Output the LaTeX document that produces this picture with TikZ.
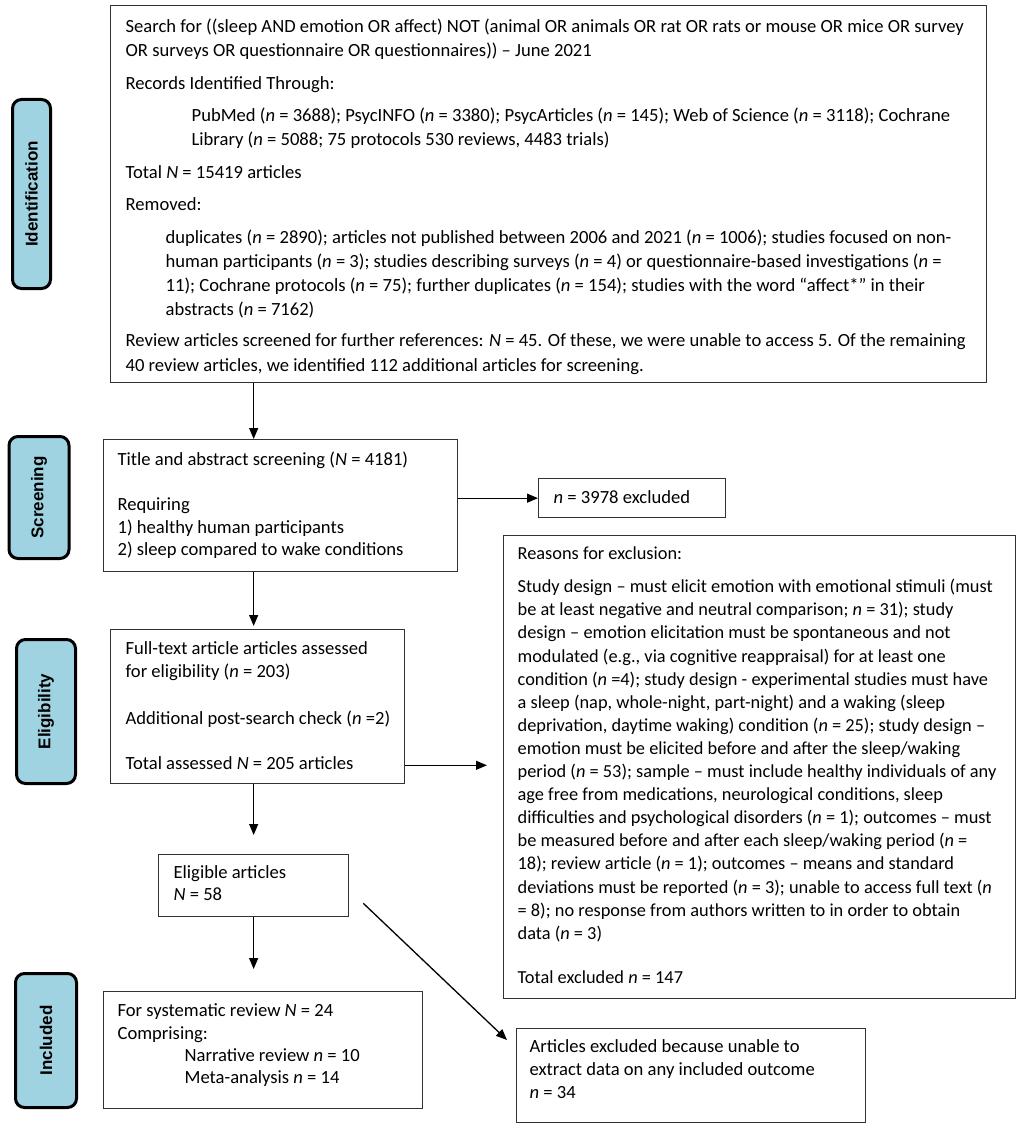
\documentclass[tikz,border=0pt]{standalone}
\usepackage{fontspec}
\setmainfont{Carlito}
\newfontfamily\lblfont{Liberation Sans}
\usetikzlibrary{arrows.meta,calc}
\definecolor{stageblue}{RGB}{160,211,226}
\definecolor{boxline}{RGB}{50,50,50}
\newcommand\boxtext[4]{\parbox[t][#2][t]{#1}{\vspace*{#3}\raggedright #4}}
\newcommand\fl{\rule{0pt}{16pt}}
\tikzset{
  flowbox/.style={draw=boxline, line width=1.3pt, rectangle, inner ysep=0pt, anchor=north west},
  stagebox/.style={draw=black, line width=3pt, rounded corners=9pt, fill=stageblue, rotate=90, inner sep=0pt, font=\lblfont\bfseries\fontsize{17}{20}\selectfont},
  arr/.style={-{Triangle[length=11pt,width=9pt]}, line width=1.3pt, draw=black},
}
\begin{document}
\begin{tikzpicture}[x=1pt,y=-1pt]
\useasboundingbox (0,0) rectangle (1021,1129);
% stage labels
\node[stagebox, minimum width=189pt, minimum height=38pt] (sid) at (31.5,194) {Identification};
\node[stagebox, minimum width=122pt, minimum height=60pt] (sscr) at (39,497.5) {Screening};
\node[stagebox, minimum width=144pt, minimum height=59pt] (selg) at (46,711.5) {Eligibility};
\node[stagebox, minimum width=134pt, minimum height=61pt] (sinc) at (46,1040.5) {Included};
% identification box
\node[flowbox, inner xsep=15pt, font=\fontsize{18.6}{24.2}\selectfont] (id) at (110,5) {\boxtext{846pt}{377pt}{11pt}{%
\mbox{\fl Search for ((sleep AND emotion OR affect) NOT (animal OR animals OR rat OR rats or mouse OR mice OR survey}\\
\mbox{OR surveys OR questionnaire OR questionnaires)) – June 2021}\\[8.5pt]
\mbox{Records Identified Through:}\\[8pt]
\mbox{\hspace*{66pt}PubMed (\textit{n} = 3688); PsycINFO (\textit{n} = 3380); PsycArticles (\textit{n} = 145); Web of Science (\textit{n} = 3118); Cochrane}\\
\mbox{\hspace*{66pt}Library (\textit{n} = 5088; 75 protocols 530 reviews, 4483 trials)}\\[8pt]
\mbox{Total \textit{N} = 15419 articles}\\[8.5pt]
\mbox{Removed:}\\[8pt]
\mbox{\hspace*{40pt}duplicates (\textit{n} = 2890); articles not published between 2006 and 2021 (\textit{n} = 1006); studies focused on non-}\\
\mbox{\hspace*{40pt}human participants (\textit{n} = 3); studies describing surveys (\textit{n} = 4) or questionnaire-based investigations (\textit{n} =}\\
\mbox{\hspace*{40pt}11); Cochrane protocols (\textit{n} = 75); further duplicates (\textit{n} = 154); studies with the word “affect*” in their}\\
\mbox{\hspace*{40pt}abstracts (\textit{n} = 7162)}\\[7pt]
\mbox{Review articles screened for further references: \textit{N} = 45. Of these, we were unable to access 5. Of the remaining}\\
\mbox{40 review articles, we identified 112 additional articles for screening.}}};
% screening box
\node[flowbox, inner xsep=14pt, font=\fontsize{18.6}{22.5}\selectfont] (scr) at (103,439) {\boxtext{326pt}{132pt}{10pt}{%
\mbox{\fl Title and abstract screening (\textit{N} = 4181)}\\[22.5pt]
\mbox{Requiring}\\
\mbox{1) healthy human participants}\\
\mbox{2) sleep compared to wake conditions}}};
% excluded 3978
\node[flowbox, inner xsep=15pt, font=\fontsize{18.6}{22.5}\selectfont] (exa) at (538,478) {\boxtext{157pt}{39pt}{9pt}{%
\mbox{\fl\textit{n} = 3978 excluded}}};
% reasons box
\node[flowbox, inner xsep=14pt, font=\fontsize{18.35}{23.1}\selectfont] (rs) at (503,535) {\boxtext{484pt}{463pt}{8pt}{%
\mbox{\fl Reasons for exclusion:}\\[10pt]
\mbox{Study design – must elicit emotion with emotional stimuli (must}\\
\mbox{be at least negative and neutral comparison; \textit{n} = 31); study}\\
\mbox{design – emotion elicitation must be spontaneous and not}\\
\mbox{modulated (e.g., via cognitive reappraisal) for at least one}\\
\mbox{condition (\textit{n} =4); study design - experimental studies must have}\\
\mbox{a sleep (nap, whole-night, part-night) and a waking (sleep}\\
\mbox{deprivation, daytime waking) condition (\textit{n} = 25); study design –}\\
\mbox{emotion must be elicited before and after the sleep/waking}\\
\mbox{period (\textit{n} = 53); sample – must include healthy individuals of any}\\
\mbox{age free from medications, neurological conditions, sleep}\\
\mbox{difficulties and psychological disorders (\textit{n} = 1); outcomes – must}\\
\mbox{be measured before and after each sleep/waking period (\textit{n} =}\\
\mbox{18); review article (\textit{n} = 1); outcomes – means and standard}\\
\mbox{deviations must be reported (\textit{n} = 3); unable to access full text (\textit{n}}\\
\mbox{= 8); no response from authors written to in order to obtain}\\
\mbox{data (\textit{n} = 3)}\\[21pt]
\mbox{Total excluded \textit{n} = 147}}};
% full-text box
\node[flowbox, inner xsep=15pt, font=\fontsize{18.6}{23.2}\selectfont] (ft) at (110,629) {\boxtext{264pt}{154pt}{9pt}{%
\mbox{\fl Full-text article articles assessed}\\
\mbox{for eligibility (\textit{n} = 203)}\\[23.2pt]
\mbox{Additional post-search check (\textit{n} =2)}\\[22.5pt]
\mbox{Total assessed \textit{N} = 205 articles}}};
% eligible box
\node[flowbox, inner xsep=15pt, font=\fontsize{18.6}{22}\selectfont] (el) at (158,854) {\boxtext{160pt}{62pt}{8pt}{%
\mbox{\fl Eligible articles}\\
\mbox{\textit{N} = 58}}};
% systematic review box
\node[flowbox, inner xsep=14pt, font=\fontsize{18.6}{22.4}\selectfont] (sy) at (103,991) {\boxtext{291pt}{117pt}{9pt}{%
\mbox{\fl For systematic review \textit{N} = 24}\\
\mbox{Comprising:}\\
\mbox{\hspace*{67pt}Narrative review \textit{n} = 10}\\
\mbox{\hspace*{67pt}Meta-analysis \textit{n} = 14}}};
% articles excluded box
\node[flowbox, inner xsep=13pt, font=\fontsize{18.6}{22.7}\selectfont] (ae) at (516,1028) {\boxtext{323pt}{94pt}{8pt}{%
\mbox{\fl Articles excluded because unable to}\\
\mbox{extract data on any included outcome}\\
\mbox{\textit{n} = 34}}};
% spine coordinate
\coordinate (spine) at ($(el.north west)!0.5!(el.north east)$);
% connectors
\draw[arr] (id.south -| spine) -- (scr.north -| spine);
\draw[arr] (scr.south -| spine) -- ([yshift=3pt]ft.north -| spine);
\draw[arr] (ft.south -| spine) -- ([yshift=19pt]el.north -| spine);
\draw[arr] (el.south -| spine) -- ([yshift=22pt]sy.north -| spine);
\draw[arr] (scr.east |- exa.west) -- (exa.west);
\draw[arr] ($(ft.south east)+(0,-19)$) -- ($(rs.west |- ft.south east)+(-16,-19)$);
\draw[arr] ($(el.south east)+(14,-14)$) -- ($(ae.north west)+(-9,12)$);
\end{tikzpicture}
\end{document}
